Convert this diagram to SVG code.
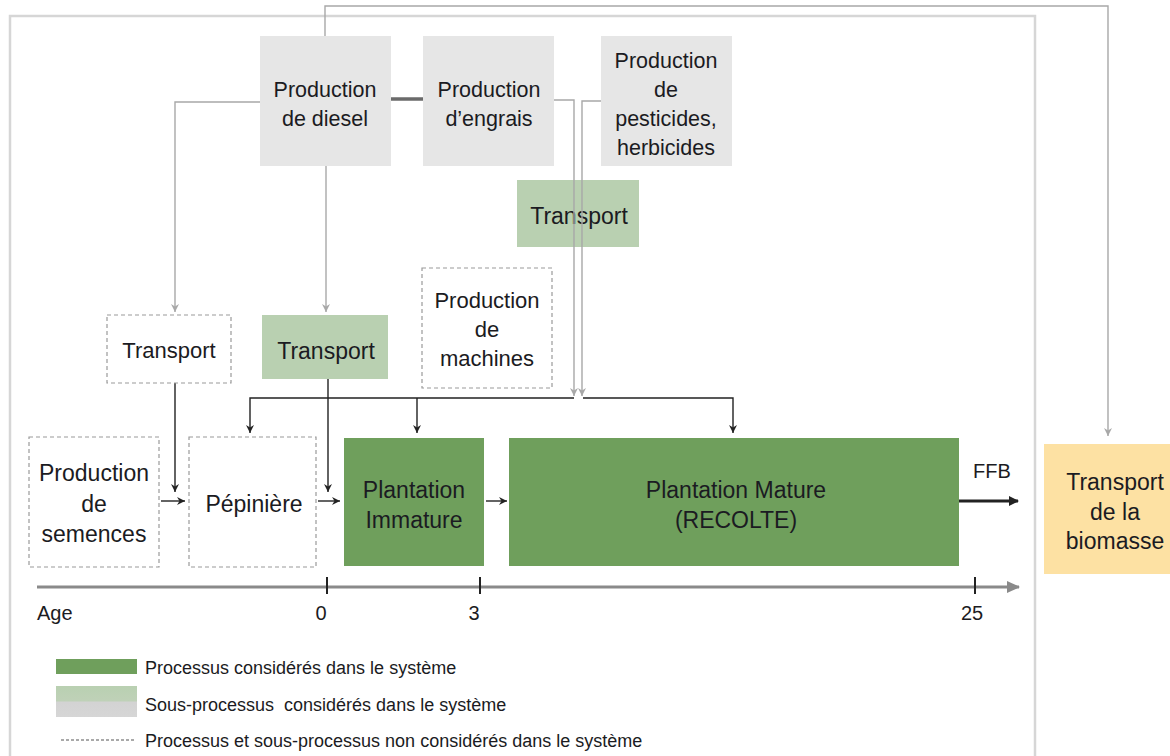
<svg xmlns="http://www.w3.org/2000/svg" width="1170" height="756" viewBox="0 0 1170 756">
<style>
text{font-family:"Liberation Sans",Arial,sans-serif;fill:#1b1b22;text-anchor:middle}
.n{font-size:22px}
.top{font-size:21.5px}
.big{font-size:23px}
.leg{font-size:18px;text-anchor:start}
.ax{font-size:20px}
.gray{fill:#e6e6e6}
.lg{fill:#b9d0b1}
.dg{fill:#6f9f5c}
.dash{fill:#fff;stroke:#9a9a9a;stroke-width:1.2;stroke-dasharray:4 3}
.cg{fill:none;stroke:#a8a8a8;stroke-width:1.4}
.cb{fill:none;stroke:#222;stroke-width:1.4}
</style>
<defs>
<marker id="ag" markerWidth="10" markerHeight="10" refX="8" refY="4" orient="auto" markerUnits="userSpaceOnUse">
<path d="M0,0 L8,4 L0,8 L2.5,4 z" fill="#a8a8a8"/>
</marker>
<marker id="ab" markerWidth="10" markerHeight="10" refX="8" refY="4" orient="auto" markerUnits="userSpaceOnUse">
<path d="M0,0 L8,4 L0,8 L2.5,4 z" fill="#222"/>
</marker>
<marker id="atri" markerWidth="12" markerHeight="12" refX="9" refY="5" orient="auto" markerUnits="userSpaceOnUse">
<path d="M0,0 L10,5 L0,10 z" fill="#222"/>
</marker>
<marker id="aax" markerWidth="14" markerHeight="14" refX="12" refY="6" orient="auto" markerUnits="userSpaceOnUse">
<path d="M0,0 L13,6 L0,12 z" fill="#8a8a8a"/>
</marker>
<linearGradient id="sub" x1="0" y1="0" x2="0" y2="1">
<stop offset="0" stop-color="#b9d0b1"/>
<stop offset="0.48" stop-color="#bfd1b8"/>
<stop offset="0.52" stop-color="#d3d3d3"/>
<stop offset="1" stop-color="#d6d6d6"/>
</linearGradient>
</defs>

<rect x="10" y="16" width="1025" height="760" fill="none" stroke="#d6d6d6" stroke-width="2.5"/>

<g id="connectors">
<path class="cg" d="M325,36 V6 H1108 V436" marker-end="url(#ag)"/>
<path d="M391,99 H423" stroke="#6a6a6a" stroke-width="3.5" fill="none"/>
<path class="cg" d="M260,102 H175 V312" marker-end="url(#ag)"/>
<path class="cg" d="M326,166 V312" marker-end="url(#ag)"/>
<path class="cg" d="M554,100 H574 V396" marker-end="url(#ag)"/>
<path class="cg" d="M601,101 H582 V396" marker-end="url(#ag)"/>
<path class="cb" d="M574,398 H250 V433" marker-end="url(#ab)"/>
<path class="cb" d="M417,398 V433" marker-end="url(#ab)"/>
<path class="cb" d="M583,398 H733 V433" marker-end="url(#ab)"/>
<path class="cb" d="M175,383 V492" marker-end="url(#ab)"/>
<path class="cb" d="M328,379 V492" marker-end="url(#ab)"/>
<path class="cb" d="M161,501 H185" marker-end="url(#ab)"/>
<path class="cb" d="M318,501 H340" marker-end="url(#ab)"/>
<path class="cb" d="M486,501 H507" marker-end="url(#ab)"/>
<path d="M959,501 H1018" stroke="#222" stroke-width="3" fill="none" marker-end="url(#atri)"/>
</g>

<g id="n-diesel"><rect class="gray" x="260" y="36" width="131" height="130"/>
<text class="top" x="325" y="97">Production</text><text class="top" x="325" y="126">de diesel</text></g>
<g id="n-engrais"><rect class="gray" x="423" y="36" width="131" height="130"/>
<text class="top" x="489" y="97">Production</text><text class="top" x="489" y="126">d’engrais</text></g>
<g id="n-pesticides"><rect class="gray" x="601" y="36" width="131" height="130"/>
<text class="top" x="666" y="68">Production</text><text class="top" x="666" y="97">de</text><text class="top" x="666" y="126">pesticides,</text><text class="top" x="666" y="155">herbicides</text></g>
<g id="n-transport-top"><rect class="lg" x="517" y="180" width="122" height="67"/>
<text class="big" x="579" y="224">Transport</text></g>
<path class="cg" d="M574,180 V247 M582,180 V247"/>

<g id="n-transport-dashed"><rect class="dash" x="107" y="315" width="124" height="68"/>
<text class="n" x="169" y="358">Transport</text></g>
<g id="n-transport-green"><rect class="lg" x="262" y="315" width="126" height="64"/>
<text class="big" x="326" y="359">Transport</text></g>
<g id="n-machines"><rect class="dash" x="422" y="268" width="130" height="120"/>
<text class="n" x="487" y="308">Production</text><text class="n" x="487" y="337">de</text><text class="n" x="487" y="366">machines</text></g>

<g id="n-semences"><rect class="dash" x="29" y="437" width="130" height="130"/>
<text class="big" x="94" y="481">Production</text><text class="big" x="94" y="512">de</text><text class="big" x="94" y="542">semences</text></g>
<g id="n-pepiniere"><rect class="dash" x="189" y="437" width="127" height="130"/>
<text class="big" x="254" y="512">Pépinière</text></g>
<g id="n-immature"><rect class="dg" x="344" y="438" width="140" height="128"/>
<text class="big" x="414" y="498">Plantation</text><text class="big" x="414" y="528">Immature</text></g>
<g id="n-mature"><rect class="dg" x="509" y="438" width="450" height="128"/>
<text class="big" x="736" y="498">Plantation Mature</text><text class="big" x="736" y="528">(RECOLTE)</text></g>
<g id="n-ffb"><text class="ax" x="992" y="478">FFB</text></g>
<g id="n-biomasse"><rect x="1044" y="444" width="130" height="130" fill="#fde1a3"/>
<text class="big" x="1115" y="490">Transport</text><text class="big" x="1115" y="520">de la</text><text class="big" x="1115" y="549">biomasse</text></g>

<g id="axis">
<path d="M37,587 H1019" stroke="#8a8a8a" stroke-width="3" fill="none" marker-end="url(#aax)"/>
<path d="M327,577 V594 M480,577 V594 M975,577 V594" stroke="#222" stroke-width="2"/>
<text class="ax" x="37" y="620" style="text-anchor:start">Age</text>
<text class="ax" x="321" y="620">0</text>
<text class="ax" x="474" y="620">3</text>
<text class="ax" x="972" y="620">25</text>
</g>

<g id="legend">
<rect class="dg" x="56" y="659" width="81" height="15"/>
<text class="leg" x="145" y="674">Processus considérés dans le système</text>
<rect x="56" y="686" width="81" height="31" fill="url(#sub)"/>
<text class="leg" x="145" y="711">Sous-processus&#160; considérés dans le système</text>
<path d="M61,740 H134" stroke="#555" stroke-width="1.2" stroke-dasharray="3 2"/>
<text class="leg" x="145" y="747">Processus et sous-processus non considérés dans le système</text>
</g>
</svg>
